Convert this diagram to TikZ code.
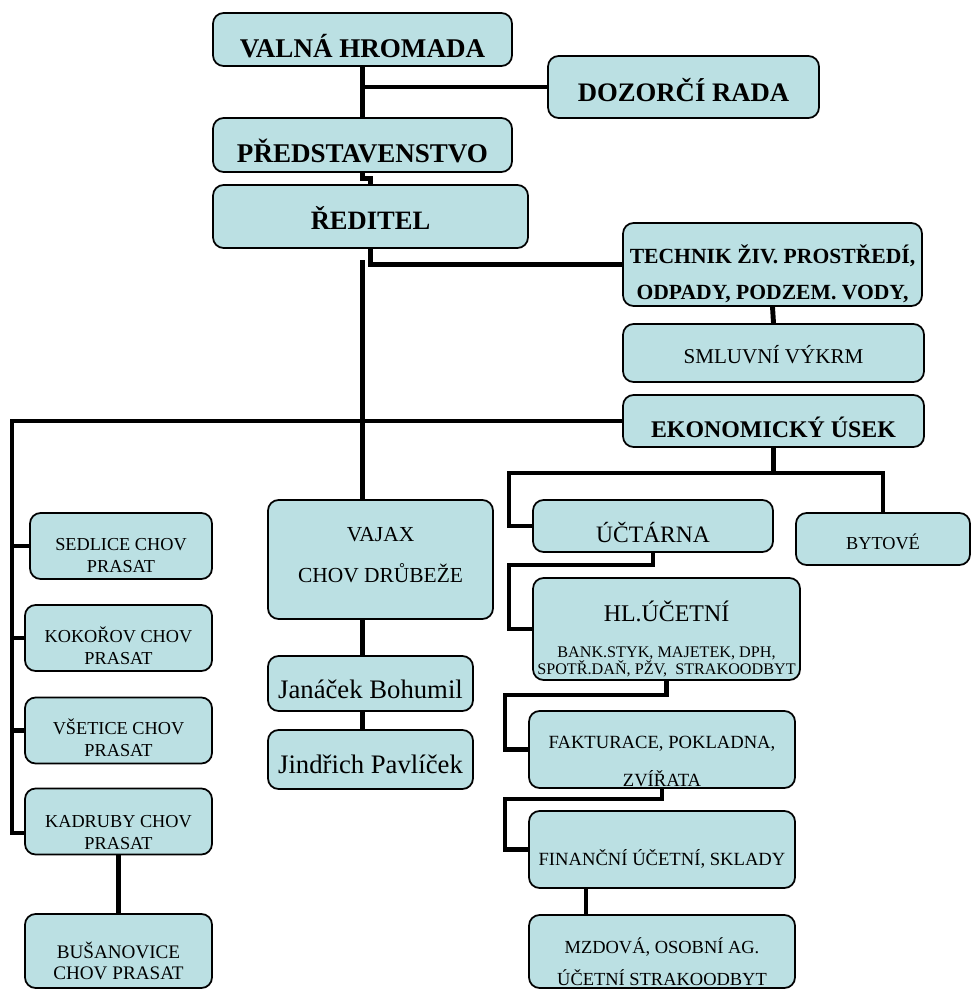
\documentclass[tikz,border=0pt]{standalone}
\usepackage{fontspec}
\setmainfont{Liberation Serif}
\usepackage{xcolor}
\usepackage{tikz}
\usetikzlibrary{positioning,calc}

\definecolor{boxfill}{RGB}{187,224,227}

\begin{document}
\begin{tikzpicture}[
    x=0.02cm, y=-0.02cm,
    unit/.style={rectangle, draw, line width=1pt, fill=boxfill, rounded corners=6pt, align=center, inner sep=1pt},
    drop/.style={text height=#1, text depth=0pt},
    hdr/.style={unit, font=\fontsize{#1}{17}\selectfont\bfseries},
    sub/.style={unit, font=\fontsize{10.6}{21.5}\selectfont},
    farm/.style={unit, minimum width=3.74cm, minimum height=1.32cm, font=\fontsize{10.4}{12}\selectfont},
    link/.style={line width=2.8pt}
]
    \useasboundingbox (0,0) rectangle (977,990);

    \node [hdr=15.4, drop=0.74cm, minimum width=5.98cm, minimum height=1.06cm] (valna) at (362.5,39.5) {VALNÁ HROMADA};
    \node [hdr=15.2, drop=0.6cm, minimum width=5.42cm, minimum height=1.24cm] (dozor) at (683.5,87) {DOZORČÍ RADA};
    \node [hdr=15.4, drop=0.72cm, minimum width=5.98cm, minimum height=1.08cm] (pred) at (362.5,145) {PŘEDSTAVENSTVO};
    \node [hdr=15.1, drop=0.54cm, minimum width=6.3cm, minimum height=1.26cm] (reditel) at (370.5,216.5) {ŘEDITEL};
    \node [unit, drop=1.42cm, minimum width=5.98cm, minimum height=1.66cm, font=\fontsize{12.3}{21}\selectfont\bfseries] (tech) at (772.5,264.5) {TECHNIK ŽIV. PROSTŘEDÍ,\\ODPADY, PODZEM. VODY,};
    \node [unit, drop=0.4cm, minimum width=6.02cm, minimum height=1.16cm, font=\fontsize{12}{14}\selectfont] (smluv) at (773.5,353) {SMLUVNÍ VÝKRM};
    \node [hdr=13.6, drop=0.64cm, minimum width=6.02cm, minimum height=1.04cm] (ekon) at (773.5,421) {EKONOMICKÝ ÚSEK};

    \node [unit, drop=0.64cm, minimum width=4.8cm, minimum height=1.04cm, font=\fontsize{13.4}{16}\selectfont] (uctar) at (653,526) {ÚČTÁRNA};
    \node [unit, drop=0.4cm, minimum width=3.48cm, minimum height=1.04cm, font=\fontsize{10.4}{12}\selectfont] (bytove) at (883,539) {BYTOVÉ};
    \node [unit, drop=1.84cm, minimum width=5.34cm, minimum height=2.04cm, font=\fontsize{9.2}{10.2}\selectfont] (hlucet) at (666.5,629) {{\fontsize{13.6}{16}\selectfont HL.ÚČETNÍ}\\[10.3pt]BANK.STYK, MAJETEK, DPH,\\SPOTŘ.DAŇ, PŽV,\ \ STRAKOODBYT};
    \node [sub, drop=1.46cm, minimum width=5.32cm, minimum height=1.54cm] (faktur) at (662,749.5) {FAKTURACE, POKLADNA,\\ZVÍŘATA};
    \node [sub, drop=0.62cm, minimum width=5.32cm, minimum height=1.54cm] (financ) at (662,849.5) {FINANČNÍ ÚČETNÍ, SKLADY};
    \node [unit, drop=1.34cm, minimum width=5.32cm, minimum height=1.46cm, font=\fontsize{10.5}{18}\selectfont] (mzdova) at (662,951.5) {MZDOVÁ, OSOBNÍ AG.\\ÚČETNÍ STRAKOODBYT};

    \node [farm, drop=1.04cm, minimum width=3.64cm] (sedlice) at (121,546) {SEDLICE CHOV\\PRASAT};
    \node [farm, drop=1.04cm] (kokorov) at (118.5,638) {KOKOŘOV CHOV\\PRASAT};
    \node [farm, drop=1.02cm] (vsetice) at (118.5,730.5) {VŠETICE CHOV\\PRASAT};
    \node [farm, drop=1.1cm] (kadruby) at (118.5,821.5) {KADRUBY CHOV\\PRASAT};
    \node [farm, drop=1.12cm, minimum height=1.48cm, font=\fontsize{10.9}{11.4}\selectfont] (busan) at (118.5,951) {BUŠANOVICE\\CHOV PRASAT};

    \node [unit, drop=0.9cm, minimum width=4.5cm, minimum height=2.38cm, font=\fontsize{12.2}{23.2}\selectfont] (vajax) at (380.5,559.5) {VAJAX\\CHOV DRŮBEŽE};
    \node [unit, drop=0.58cm, minimum width=4.1cm, minimum height=1.1cm, font=\fontsize{15.2}{18}\selectfont] (janacek) at (370.5,683.5) {Janáček Bohumil};
    \node [unit, drop=0.54cm, minimum width=4.1cm, minimum height=1.18cm, font=\fontsize{15.2}{18}\selectfont] (jindrich) at (370.5,759.5) {Jindřich Pavlíček};

    \coordinate (trunk) at (12,421);
    \coordinate (spine) at (362.5,260);
    \coordinate (ekbus) at (509,473);

    \draw [link] (valna) -- (pred);
    \draw [link] (valna.south |- dozor.west) -- (dozor.west);
    \draw [link] (pred.south) -- ++(0,6) -| (reditel.north);
    \draw [link] (reditel.south) |- (tech.west);
    \draw [link] (spine) -- (spine |- vajax.north);
    \draw [link] (tech.south) -- (smluv.north);
    \draw [link] (ekon.west) -| (12,833) -- (kadruby.west |- 0,833);
    \draw [link] (trunk |- sedlice.west) -- (sedlice.west);
    \draw [link] (trunk |- kokorov.west) -- (kokorov.west);
    \draw [link] (trunk |- vsetice.west) -- (vsetice.west);
    \draw [link] (kadruby) -- (busan);
    \draw [link] (spine |- vajax.south) -- (spine |- janacek.north);
    \draw [link] (spine |- janacek.south) -- (spine |- jindrich.north);

    \draw [link] (ekon.south) |- (ekbus) |- (uctar.west);
    \draw [link] (ekon.south) |- (bytove.north |- ekbus) -- (bytove.north);
    \draw [link] (uctar.south) |- (509,565) |- (hlucet.west);
    \draw [link] (hlucet.south) |- (505,695) |- (faktur.west);
    \draw [link] (faktur.south) |- (505,799) |- (financ.west);
    \draw [link] ([xshift=-1.52cm]financ.south) -- ([xshift=-1.52cm]mzdova.north);
\end{tikzpicture}
\end{document}
